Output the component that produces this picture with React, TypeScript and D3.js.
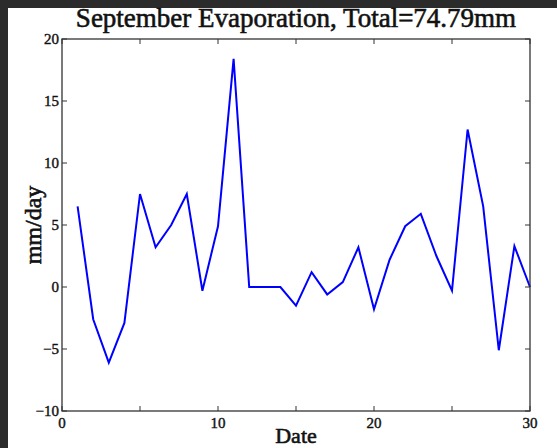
import React, { useEffect, useRef } from "react";
import * as d3 from "d3";

const days: number[] = Array.from({ length: 30 }, (_, i) => i + 1);
const evaporation: number[] = [
  6.5, -2.6, -6.1, -2.9, 7.5, 3.2, 5.0, 7.5, -0.3, 4.9,
  18.4, 0, 0, 0, -1.5, 1.2, -0.6, 0.4, 3.2, -1.8,
  2.2, 4.9, 5.9, 2.5, -0.3, 12.7, 6.5, -5.1, 3.3, 0,
];
const xTicks: number[] = [0, 5, 10, 15, 20, 25, 30];
const xTickLabels: number[] = [0, 10, 20, 30];
const yTicks: number[] = [-10, -5, 0, 5, 10, 15, 20];
const titleText = "September Evaporation, Total=74.79mm";
const xLabel = "Date";
const yLabel = "mm/day";

export default function App() {
  const ref = useRef<SVGSVGElement | null>(null);
  useEffect(() => {
    const W = 557, H = 448;
    const m = { left: 62, right: 530, top: 39, bottom: 411 };
    const svg = d3.select(ref.current);
    svg.selectAll("*").remove();
    svg.append("rect").attr("width", W).attr("height", H).attr("fill", "#fff");
    svg.append("rect").attr("x", 0).attr("y", 0).attr("width", W).attr("height", 8).attr("fill", "#2b2b2b");
    svg.append("rect").attr("x", 0).attr("y", 0).attr("width", 8).attr("height", H).attr("fill", "#2b2b2b");

    const x = d3.scaleLinear().domain([0, 30]).range([m.left, m.right]);
    const y = d3.scaleLinear().domain([-10, 20]).range([m.bottom, m.top]);
    const font = "'Liberation Serif', 'DejaVu Serif', serif";

    const line = d3.line<number>().x((_, i) => x(days[i])).y((d) => y(d));
    svg.append("path").datum(evaporation).attr("d", line)
      .attr("fill", "none").attr("stroke", "#0000ff").attr("stroke-width", 2)
      .attr("stroke-linejoin", "miter");

    svg.append("rect").attr("x", m.left).attr("y", m.top)
      .attr("width", m.right - m.left).attr("height", m.bottom - m.top)
      .attr("fill", "none").attr("stroke", "#333").attr("stroke-width", 1.3);

    const tk = 5;
    const g = svg.append("g").attr("stroke", "#333").attr("stroke-width", 1);
    xTicks.forEach((t) => {
      g.append("line").attr("x1", x(t)).attr("x2", x(t)).attr("y1", m.bottom).attr("y2", m.bottom - tk);
      g.append("line").attr("x1", x(t)).attr("x2", x(t)).attr("y1", m.top).attr("y2", m.top + tk);
    });
    yTicks.forEach((t) => {
      g.append("line").attr("x1", m.left).attr("x2", m.left + tk).attr("y1", y(t)).attr("y2", y(t));
      g.append("line").attr("x1", m.right).attr("x2", m.right - tk).attr("y1", y(t)).attr("y2", y(t));
    });

    const txt = (sel: any, sw: number) =>
      sel.attr("font-family", font).attr("fill", "#111").attr("stroke", "#111")
        .attr("stroke-width", sw).attr("paint-order", "stroke");

    xTickLabels.forEach((t) => {
      txt(svg.append("text"), 0.4).attr("x", x(t)).attr("y", m.bottom + 17)
        .attr("text-anchor", "middle").attr("font-size", 15).text(String(t));
    });
    yTicks.forEach((t) => {
      txt(svg.append("text"), 0.4).attr("x", m.left - 3).attr("y", y(t) + 5)
        .attr("text-anchor", "end").attr("font-size", 15)
        .text(t < 0 ? "\u2212" + Math.abs(t) : String(t));
    });

    txt(svg.append("text"), 0.6).attr("x", (m.left + m.right) / 2).attr("y", 27)
      .attr("text-anchor", "middle").attr("font-size", 27).text(titleText);
    txt(svg.append("text"), 0.6).attr("x", (m.left + m.right) / 2).attr("y", 443)
      .attr("text-anchor", "middle").attr("font-size", 22).text(xLabel);
    txt(svg.append("text"), 0.6).attr("transform", `translate(41,${(m.top + m.bottom) / 2}) rotate(-90)`)
      .attr("text-anchor", "middle").attr("font-size", 24).text(yLabel);
  }, []);
  return (
    <svg ref={ref} width={557} height={448}
      style={{ position: "absolute", left: 0, top: 0, display: "block" }} />
  );
}
